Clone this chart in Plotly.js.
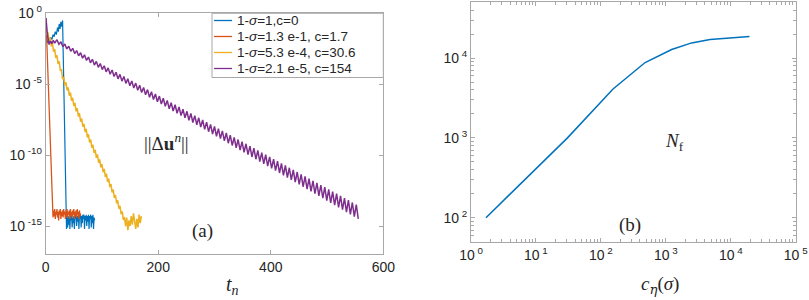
<!DOCTYPE html>
<html><head><meta charset="utf-8">
<script src="https://cdn.plot.ly/plotly-3.0.1.min.js"></script>
<style>html,body{margin:0;padding:0;background:#fff;}#plot{width:809px;height:300px;}</style>
</head><body><div id="plot"></div>
<script>
// ---- panel (a): log10 of ||Δu^n|| versus t_n ----
const legendNames = ["1-<i>σ</i>=1,c=0", "1-<i>σ</i>=1.3 e-1, c=1.7", "1-<i>σ</i>=5.3 e-4, c=30.6", "1-<i>σ</i>=2.1 e-5, c=154"];
const colors = ["#0072BD", "#D95319", "#EDB120", "#7E2F8E"];

const tBlue = [1,3,5,7,9,11,13,15,17,19,21,22.5,24,25.5,27,28.5,30,37,38,39,40,41,42,43,44,45,46,47,48,49,50,51,52,53,54,55,56,57,58,59,60,61,62,63,64,65,66,67,68,69,70,71,72,73,74,75,76,77,78,79,80,81,82,83,84,85,86,87];
const lgBlue = [-1.5,-2.1,-1.9,-2.0,-1.7,-1.85,-1.5,-1.65,-1.3,-1.5,-1.0,-1.3,-0.75,-1.1,-0.6,-0.95,-0.5,-15.2,-14.4,-15.1,-14.3,-14.9,-14.4,-15.2,-14.3,-14.6,-14.3,-15.1,-14.4,-14.8,-14.3,-15.2,-14.3,-14.5,-14.2,-15.0,-14.3,-14.7,-14.2,-15.2,-14.3,-14.5,-14.2,-15.1,-14.3,-14.8,-14.2,-14.5,-14.2,-15.2,-14.3,-14.6,-14.2,-15.0,-14.3,-14.7,-14.2,-15.2,-14.3,-14.5,-14.2,-15.1,-14.3,-14.8,-14.2,-15.2,-14.4,-14.6];

const tOrange = [0.5,3,6,9,12,13,14,15,16,17,18,19,20,21,22,23,24,25,26,27,28,29,30,31,32,33,34,35,36,37,38,39,40,41,42,43,44,45,46,47,48,49,50,51,52,53,54,55,56,57,58,59,60,61,62];
const lgOrange = [-0.35,-3.3,-7.0,-10.8,-13.9,-14.4,-13.9,-14.3,-13.8,-14.5,-14.0,-14.2,-13.8,-14.4,-14.0,-14.6,-13.9,-14.2,-13.8,-14.5,-14.0,-14.3,-13.9,-14.4,-13.8,-14.2,-14.0,-14.5,-13.9,-14.3,-13.8,-14.4,-14.0,-14.2,-13.9,-14.5,-13.8,-14.3,-14.0,-14.4,-13.9,-14.2,-13.8,-14.5,-14.0,-14.3,-13.9,-14.4,-13.8,-14.2,-14.0,-14.5,-13.9,-14.3,-14.1];

const tYellow = [0.5,2,4,6,8,10,12,14,16,18,20,22,24,26,28,30,32,34,36,38,40,42,44,46,48,50,52,54,56,58,60,62,64,66,68,70,72,74,76,78,80,82,84,86,88,90,92,94,96,98,100,102,104,106,108,110,112,114,116,118,120,122,124,126,128,130,132,134,136,138,140,142,144,146,148,150,152,154,156,158,160,162,164,166,168,170];
const lgYellow = [-1.2,-1.54,-1.34,-1.93,-1.73,-2.33,-2.11,-2.70,-2.52,-3.14,-2.96,-3.57,-3.39,-4.05,-3.95,-4.65,-4.49,-5.08,-4.86,-5.44,-5.23,-5.81,-5.59,-6.17,-5.96,-6.54,-6.32,-6.91,-6.69,-7.27,-7.05,-7.64,-7.42,-8.00,-7.79,-8.37,-8.15,-8.75,-8.53,-9.11,-8.90,-9.48,-9.27,-9.85,-9.62,-10.19,-9.95,-10.53,-10.30,-10.86,-10.63,-11.20,-10.97,-11.54,-11.31,-11.88,-11.66,-12.25,-12.04,-12.63,-12.43,-13.02,-12.81,-13.40,-13.19,-13.78,-13.57,-14.17,-13.97,-14.57,-14.37,-15.0,-14.4,-15.3,-14.6,-15.0,-14.3,-14.9,-14.1,-14.7,-15.2,-14.5,-15.1,-14.2,-14.8,-14.3];

const tPurple = [0.5,3,6,9,11,13.5,16,18,
20,23.5,27,30.5,34,37.5,41,44.5,48,51.5,55,58.5,62,65.5,69,72.5,76,79.5,83,86.5,90,93.5,97,100.5,104,107.5,111,114.5,118,121.5,125,128.5,132,135.5,139,142.5,146,149.5,153,156.5,160,163.5,167,170.5,174,177.5,181,184.5,188,191.5,195,198.5,202,205.5,209,212.5,216,219.5,223,226.5,230,233.5,237,240.5,244,247.5,251,254.5,258,261.5,265,268.5,272,275.5,279,282.5,286,289.5,293,296.5,300,303.5,307,310.5,314,317.5,321,324.5,328,331.5,335,338.5,342,345.5,349,352.5,356,359.5,363,366.5,370,373.5,377,380.5,384,387.5,391,394.5,398,401.5,405,408.5,412,415.5,419,422.5,426,429.5,433,436.5,440,443.5,447,450.5,454,457.5,461,464.5,468,471.5,475,478.5,482,485.5,489,492.5,496,499.5,503,506.5,510,513.5,517,520.5,524,527.5,531,534.5,538,541.5,545,548.5,552,555.5];
const lgPurple = [-0.33,-1.5,-2.2,-1.95,-2.15,-1.9,-2.1,-1.95,
-1.86,-2.19,-2.01,-2.35,-2.17,-2.51,-2.32,-2.68,-2.47,-2.84,-2.63,-3.00,-2.78,-3.16,-2.93,-3.32,-3.09,-3.49,-3.24,-3.65,-3.39,-3.81,-3.54,-3.97,-3.70,-4.13,-3.85,-4.30,-4.00,-4.46,-4.16,-4.62,-4.31,-4.78,-4.46,-4.94,-4.61,-5.11,-4.77,-5.27,-4.92,-5.43,-5.07,-5.59,-5.23,-5.75,-5.38,-5.92,-5.53,-6.08,-5.69,-6.24,-5.84,-6.40,-5.99,-6.56,-6.14,-6.73,-6.30,-6.89,-6.45,-7.05,-6.60,-7.21,-6.76,-7.37,-6.91,-7.54,-7.06,-7.70,-7.22,-7.86,-7.37,-8.02,-7.52,-8.18,-7.67,-8.35,-7.83,-8.51,-7.98,-8.67,-8.13,-8.83,-8.29,-8.99,-8.44,-9.16,-8.59,-9.32,-8.75,-9.48,-8.90,-9.64,-9.05,-9.80,-9.20,-9.97,-9.36,-10.13,-9.51,-10.29,-9.66,-10.45,-9.82,-10.61,-9.97,-10.78,-10.12,-10.94,-10.28,-11.10,-10.43,-11.26,-10.58,-11.42,-10.73,-11.59,-10.89,-11.75,-11.04,-11.91,-11.19,-12.07,-11.35,-12.23,-11.50,-12.40,-11.65,-12.56,-11.81,-12.72,-11.96,-12.88,-12.11,-13.04,-12.26,-13.21,-12.42,-13.37,-12.57,-13.53,-12.72,-13.69,-12.88,-13.85,-13.03,-14.02,-13.18,-14.18,-13.34,-14.34,-13.49,-14.50];

// ---- panel (b): N_f versus c_eta(sigma) ----
const cEta = [1.7, 30.6, 154, 480, 1230, 2500, 4800, 11000, 19400];
const Nf = [100, 1000, 4100, 8800, 12800, 15500, 17100, 18000, 18600];

// tick labels
const leftYTickVals = [1, 1e-5, 1e-10, 1e-15];
const leftYTickText = ["10<sup> 0</sup>", "10<sup> -5</sup>", "10<sup> -10</sup>", "10<sup> -15</sup>"];
const leftXTickVals = [0, 200, 400, 600];
const rightXTickVals = [1, 10, 100, 1000, 10000, 100000];
const rightXTickText = ["10<sup> 0</sup>", "10<sup> 1</sup>", "10<sup> 2</sup>", "10<sup> 3</sup>", "10<sup> 4</sup>", "10<sup> 5</sup>"];
const rightYTickVals = [100, 1000, 10000];
const rightYTickText = ["10<sup> 2</sup>", "10<sup> 3</sup>", "10<sup> 4</sup>"];

const pow = a => a.map(v => Math.pow(10, v));
const series = [[tBlue, lgBlue], [tOrange, lgOrange], [tYellow, lgYellow], [tPurple, lgPurple]];
const widths = [1.2, 1.3, 1.5, 1.5];
const traces = series.map((s, i) => ({
  x: s[0], y: pow(s[1]), type: 'scatter', mode: 'lines', name: legendNames[i], showlegend: false,
  line: {color: colors[i], width: widths[i]}, xaxis: 'x', yaxis: 'y'
}));
traces.push({x: cEta, y: Nf, type: 'scatter', mode: 'lines', showlegend: false,
  line: {color: '#0072BD', width: 1.5}, xaxis: 'x2', yaxis: 'y2'});

function minorVals(lo, hi) {
  const out = [];
  for (let e = lo; e < hi; e++) for (let m = 2; m <= 9; m++) out.push(m * Math.pow(10, e));
  return out;
}

const W = 809, H = 300;
const px = v => v / W, py = v => 1 - v / H;
const sans = 'Liberation Sans, Arial, sans-serif';
const serif = 'Liberation Serif, DejaVu Serif, serif';
const tickFont = {family: sans, size: 14, color: '#262626'};
const axCol = '#a8a8a8';
const common = {showgrid: false, zeroline: false, showline: true, linecolor: axCol, linewidth: 1,
  mirror: 'ticks', ticks: 'inside', ticklen: 4, tickcolor: axCol, tickfont: tickFont};

// manual legend (box, line samples, labels)
const legRows = [20.5, 36.5, 52.5, 68.5];
const shapes = [{type: 'rect', xref: 'paper', yref: 'paper', x0: px(212), x1: px(383.3), y0: py(13.3), y1: py(77.5),
  fillcolor: '#fff', line: {color: axCol, width: 1}, layer: 'above'}];
const annotations = [];
legRows.forEach((r, i) => {
  shapes.push({type: 'line', xref: 'paper', yref: 'paper', x0: px(214), x1: px(232), y0: py(r), y1: py(r),
    line: {color: colors[i], width: 1.3}, layer: 'above'});
  annotations.push({text: legendNames[i], x: px(234.5), y: py(r), xref: 'paper', yref: 'paper', showarrow: false,
    xanchor: 'left', yanchor: 'middle', font: {family: sans, size: 13.5, color: '#262626'}});
});
function lab(text, x, y, size) {
  annotations.push({text: text, x: px(x), y: py(y), xref: 'paper', yref: 'paper', showarrow: false,
    xanchor: 'center', yanchor: 'middle', font: {family: serif, size: size, color: '#262626'}});
}
lab('||Δ<b>u</b><sup><i>n</i></sup>||', 166, 142, 19);
lab('(a)', 202.5, 231, 19);
lab('<i>t</i><sub><i>n</i></sub>', 233, 285, 20);
lab('<i>N</i><sub>f</sub>', 674, 142, 19);
lab('(b)', 630, 225, 19);
lab('<i>c</i><sub><span style="font-family:DejaVu Serif"><i>η</i></span></sub>(<i>σ</i>)', 660, 285, 19);

const layout = {
  width: W, height: H, margin: {l: 0, r: 0, t: 0, b: 0},
  paper_bgcolor: '#fff', plot_bgcolor: '#fff', showlegend: false,
  xaxis: Object.assign({}, common, {domain: [px(45.7), px(383.3)], range: [0, 600],
    tickmode: 'array', tickvals: leftXTickVals, anchor: 'y'}),
  yaxis: Object.assign({}, common, {domain: [py(254.4), py(13.3)], type: 'log', range: [-17, 0],
    tickmode: 'array', tickvals: leftYTickVals, ticktext: leftYTickText, anchor: 'x'}),
  xaxis2: Object.assign({}, common, {domain: [px(471), px(795.7)], type: 'log', range: [0, 5],
    tickmode: 'array', tickvals: rightXTickVals, ticktext: rightXTickText, anchor: 'y2',
    minor: {tickmode: 'array', tickvals: minorVals(0, 5), ticks: 'inside', ticklen: 2.5, tickcolor: axCol}}),
  yaxis2: Object.assign({}, common, {domain: [py(241.7), py(2.3)], type: 'log',
    range: [Math.log10(50), Math.log10(50000)],
    tickmode: 'array', tickvals: rightYTickVals, ticktext: rightYTickText, anchor: 'x2',
    minor: {tickmode: 'array', tickvals: minorVals(1, 5).filter(v => v >= 50 && v <= 50000), ticks: 'inside', ticklen: 2.5, tickcolor: axCol}}),
  shapes: shapes,
  annotations: annotations
};

Plotly.newPlot('plot', traces, layout, {staticPlot: true, displayModeBar: false});
</script></body></html>
